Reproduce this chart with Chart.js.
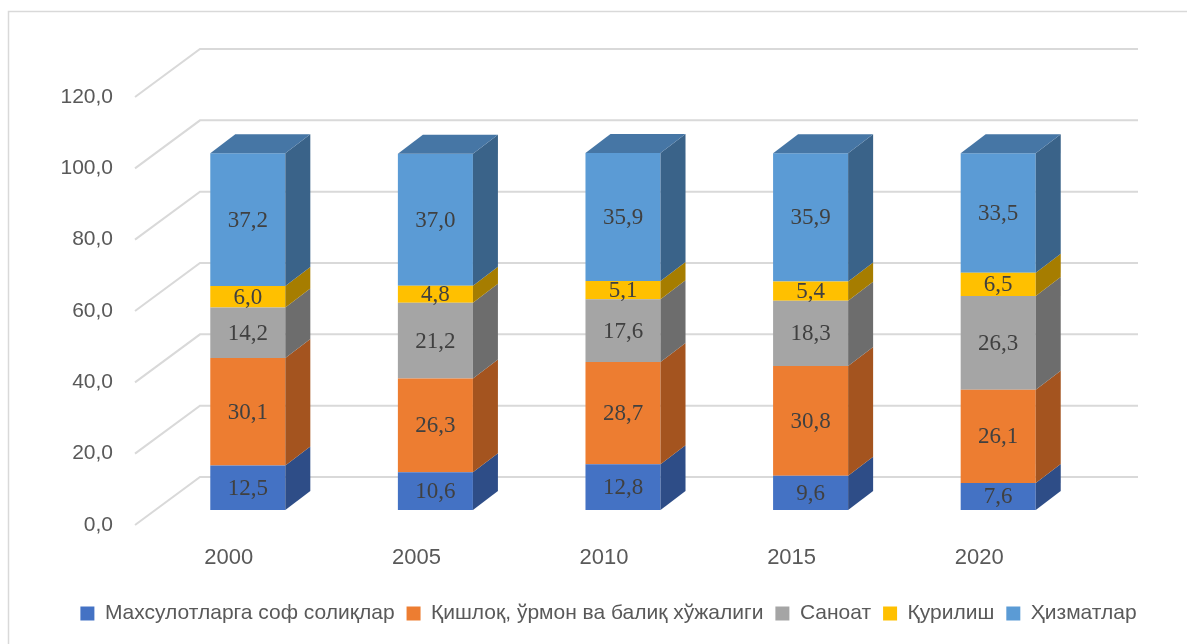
<!DOCTYPE html>
<html>
<head>
<meta charset="utf-8">
<script src="https://cdn.jsdelivr.net/npm/chart.js@4.4.1/dist/chart.umd.min.js"></script>
<style>
html,body{margin:0;padding:0;background:#ffffff;}
#wrap{width:1187px;height:644px;position:relative;}
</style>
</head>
<body>
<div id="wrap"><canvas id="c" width="1187" height="644"></canvas></div>
<script>
// ---- data ----
const years = ['2000', '2005', '2010', '2015', '2020'];
const seriesNames = ['Махсулотларга соф солиқлар', 'Қишлоқ, ўрмон ва балиқ хўжалиги', 'Саноат', 'Қурилиш', 'Ҳизматлар'];
const taxes = [12.5, 10.6, 12.8, 9.6, 7.6];
const agriculture = [30.1, 26.3, 28.7, 30.8, 26.1];
const industry = [14.2, 21.2, 17.6, 18.3, 26.3];
const construction = [6.0, 4.8, 5.1, 5.4, 6.5];
const services = [37.2, 37.0, 35.9, 35.9, 33.5];
const yTicks = [0, 20, 40, 60, 80, 100, 120];

// ---- styles ----
const frontColors = ['#4472C4', '#ED7D31', '#A5A5A5', '#FFC000', '#5B9BD5'];
const sideColors = ['#2E4D87', '#A4541F', '#6D6D6D', '#A67D00', '#3A6389'];
const topColors = ['#3A5EA0', '#C7692A', '#8A8A8A', '#D9A300', '#4676A5'];
const DX = 25, DY = -19;

const fmt = v => v.toFixed(1).replace('.', ',');

const borderPlugin = {
  id: 'outerBorder',
  beforeDraw(chart) {
    const ctx = chart.ctx;
    ctx.save();
    ctx.fillStyle = '#ffffff';
    ctx.fillRect(0, 0, chart.width, chart.height);
    ctx.strokeStyle = '#d9d9d9';
    ctx.lineWidth = 1.5;
    ctx.strokeRect(8.5, 11.5, chart.width + 20, chart.height + 20);
    ctx.restore();
  }
};

const gridPlugin = {
  id: 'grid3d',
  beforeDatasetsDraw(chart) {
    const ctx = chart.ctx;
    const ys = chart.scales.y;
    const area = chart.chartArea;
    ctx.save();
    ctx.strokeStyle = '#d9d9d9';
    ctx.lineWidth = 2;
    yTicks.forEach(v => {
      const y = ys.getPixelForValue(v);
      ctx.beginPath();
      ctx.moveTo(area.left - 19, y + 15);
      ctx.lineTo(area.left + 46, y - 33);
      ctx.lineTo(area.right + 46, y - 33);
      ctx.stroke();
    });
    ctx.restore();
  }
};

const facesPlugin = {
  id: 'faces3d',
  afterDatasetsDraw(chart) {
    const ctx = chart.ctx;
    const n = chart.data.datasets.length;
    ctx.save();
    chart.data.datasets.forEach((ds, di) => {
      const meta = chart.getDatasetMeta(di);
      meta.data.forEach((el) => {
        const half = el.width / 2;
        const xL = el.x - half, xR = el.x + half;
        const yT = Math.min(el.y, el.base), yB = Math.max(el.y, el.base);
        ctx.fillStyle = sideColors[di];
        ctx.beginPath();
        ctx.moveTo(xR, yT);
        ctx.lineTo(xR, yB);
        ctx.lineTo(xR + DX, yB + DY);
        ctx.lineTo(xR + DX, yT + DY);
        ctx.closePath();
        ctx.fill();
        if (di === n - 1) {
          ctx.fillStyle = topColors[di];
          ctx.beginPath();
          ctx.moveTo(xL, yT);
          ctx.lineTo(xR, yT);
          ctx.lineTo(xR + DX, yT + DY);
          ctx.lineTo(xL + DX, yT + DY);
          ctx.closePath();
          ctx.fill();
        }
      });
    });
    // value labels
    ctx.font = '23px "Liberation Serif", "Times New Roman", serif';
    ctx.fillStyle = '#404040';
    ctx.textAlign = 'center';
    ctx.textBaseline = 'middle';
    chart.data.datasets.forEach((ds, di) => {
      const meta = chart.getDatasetMeta(di);
      meta.data.forEach((el, i) => {
        ctx.fillText(fmt(ds.data[i]), el.x, (el.y + el.base) / 2 + 1);
      });
    });
    ctx.restore();
  }
};

const seriesData = [taxes, agriculture, industry, construction, services];

new Chart(document.getElementById('c'), {
  type: 'bar',
  data: {
    labels: years,
    datasets: seriesNames.map((name, i) => ({
      label: name,
      data: seriesData[i],
      backgroundColor: frontColors[i],
      borderWidth: 0,
      barPercentage: 0.4,
      categoryPercentage: 1.0
    }))
  },
  options: {
    responsive: false,
    animation: false,
    devicePixelRatio: 1,
    layout: { padding: { left: 30, right: 0, top: 82, bottom: 10 } },
    plugins: {
      tooltip: { enabled: false },
      legend: {
        position: 'bottom',
        labels: {
          boxWidth: 14,
          boxHeight: 14,
          padding: 12,
          color: '#595959',
          font: { family: '"Liberation Sans", Arial, sans-serif', size: 21 }
        }
      }
    },
    scales: {
      x: {
        stacked: true,
        grid: { display: false, drawTicks: false },
        border: { display: false },
        ticks: {
          color: '#595959',
          font: { family: '"Liberation Sans", Arial, sans-serif', size: 22 },
          padding: 35,
          labelOffset: -19,
          maxRotation: 0
        },
        afterFit: s => { s.height = 81; }
      },
      y: {
        stacked: true,
        position: 'left',
        min: 0,
        max: 120,
        grid: { display: false, drawTicks: false },
        border: { display: false },
        afterBuildTicks: s => { s.ticks = yTicks.map(v => ({ value: v })); },
        ticks: {
          color: '#595959',
          font: { family: '"Liberation Sans", Arial, sans-serif', size: 21 },
          padding: 41,
          labelOffset: 15,
          callback: v => fmt(v)
        },
        afterFit: s => { s.width = 124; }
      },
      spacer: {
        type: 'linear',
        position: 'right',
        display: true,
        grid: { display: false, drawTicks: false },
        border: { display: false },
        ticks: { display: false },
        afterFit: s => { s.width = 95; }
      }
    }
  },
  plugins: [borderPlugin, gridPlugin, facesPlugin]
});
</script>
</body>
</html>
